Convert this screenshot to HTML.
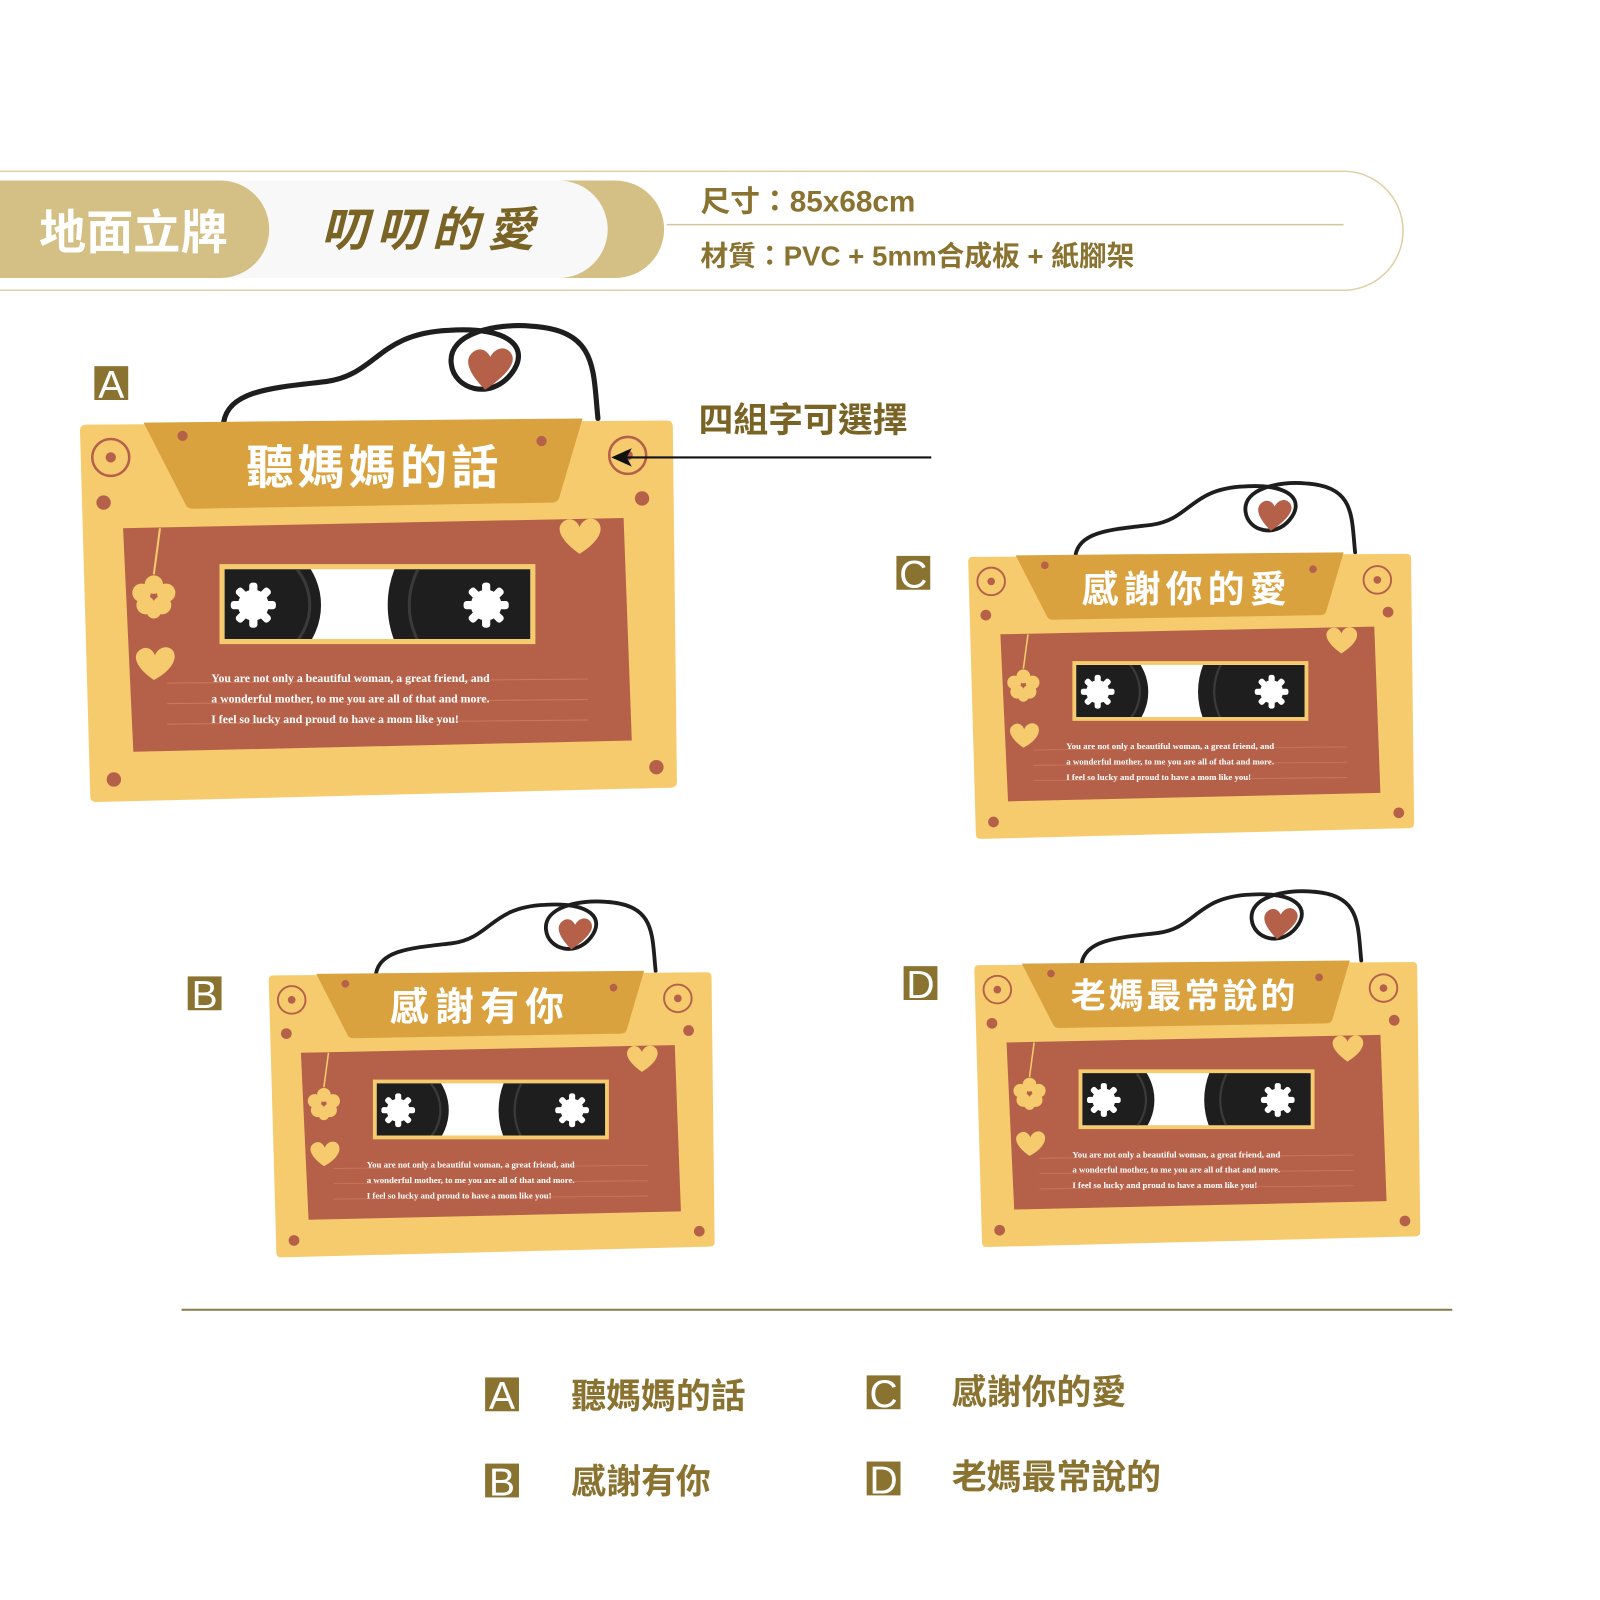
<!DOCTYPE html>
<html><head><meta charset="utf-8"><style>
html,body{margin:0;padding:0;background:#fff;width:1600px;height:1600px;overflow:hidden}
svg{display:block}
.cjk{font-family:"Liberation Sans","Noto Sans CJK TC",sans-serif}
</style></head><body>
<svg width="1600" height="1600" viewBox="0 0 1560 1560" xmlns="http://www.w3.org/2000/svg">
<defs>
<clipPath id="wclip"><rect x="141" y="145" width="298" height="68"/></clipPath>
<g id="gear">
  <circle r="15" fill="#fff"/>
  <g fill="#fff">
    <rect x="-4" y="-22" width="8" height="44" rx="3"/>
    <rect x="-4" y="-22" width="8" height="44" rx="3" transform="rotate(45)"/>
    <rect x="-4" y="-22" width="8" height="44" rx="3" transform="rotate(90)"/>
    <rect x="-4" y="-22" width="8" height="44" rx="3" transform="rotate(135)"/>
  </g>
</g>
<g id="cas">
  <path d="M140,2 C145,-30 190,-32 240,-38 C290,-45 290,-85 360,-88 C420,-92 440,-70 420,-45 C400,-20 365,-30 362,-55 C358,-85 405,-95 440,-92 C505,-88 500,-50 505,-2" fill="none" stroke="#1e1e1e" stroke-width="5" stroke-linecap="round"/>
  <path d="M395,-30 C380,-45 372,-60 385,-68 C393,-72 398,-66 400,-62 C404,-70 414,-74 420,-66 C428,-55 410,-40 395,-30 Z" fill="#b5614a"/>
  <path d="M6,4 L572,0 Q578,0 578,6 L582,352 Q582,358 576,358 L16,372 Q10,372 10,366 L0,10 Q0,4 6,4 Z" fill="#f5cb6e"/>
  <path d="M62,2 L490,-2 L467,76 Q465,80 460,80 L110,86 Q105,86 103,82 Z" fill="#d9a23e"/>
  <circle cx="30" cy="36" r="18" fill="none" stroke="#b5614a" stroke-width="2.5"/>
  <circle cx="30" cy="36" r="5" fill="#b5614a"/>
  <circle cx="534" cy="34" r="18" fill="none" stroke="#b5614a" stroke-width="2.5"/>
  <circle cx="534" cy="34" r="5" fill="#b5614a"/>
  <circle cx="23" cy="80" r="7" fill="#b5614a"/>
  <circle cx="548" cy="76" r="7" fill="#b5614a"/>
  <circle cx="33" cy="350" r="7" fill="#b5614a"/>
  <circle cx="562" cy="338" r="7" fill="#b5614a"/>
  <circle cx="100" cy="15" r="5" fill="#b5614a"/>
  <circle cx="450" cy="20" r="5" fill="#b5614a"/>
  <path d="M42,105 L530,95 L538,312 L52,323 Z" fill="#b5614a"/>
  <rect x="136" y="140" width="308" height="78" fill="#f5cb6e"/>
  <rect x="141" y="145" width="298" height="68" fill="#fff"/>
  <g clip-path="url(#wclip)">
    <circle cx="169" cy="180" r="66" fill="#1e1e1e"/>
    <circle cx="169" cy="180" r="55" fill="none" stroke="#3a3a3a" stroke-width="3"/>
    <circle cx="396" cy="180" r="96" fill="#1e1e1e"/>
    <circle cx="396" cy="180" r="75" fill="none" stroke="#3a3a3a" stroke-width="3"/>
  </g>
  <use href="#gear" x="169" y="180"/>
  <use href="#gear" x="396" y="180"/>
  <path d="M487,130 C470,118 462,105 472,98 C480,93 486,100 487,104 C490,96 500,92 506,100 C512,110 500,122 487,130 Z" fill="#f5cb6e"/>
  <path d="M72,253 C56,242 50,230 58,224 C66,218 72,225 73,229 C76,221 86,218 91,225 C96,234 86,246 72,253 Z" fill="#f5cb6e"/>
  <line x1="78" y1="105" x2="72" y2="150" stroke="#f5cb6e" stroke-width="2"/>
  <g fill="#f5cb6e">
    <circle cx="60" cy="168" r="9"/><circle cx="72" cy="160" r="9"/><circle cx="84" cy="168" r="9"/>
    <circle cx="64" cy="180" r="9"/><circle cx="80" cy="180" r="9"/><circle cx="72" cy="186" r="7"/>
  </g>
  <g stroke="#c97a5a" stroke-width="1">
    <line x1="85" y1="256" x2="495" y2="252"/>
    <line x1="85" y1="276" x2="495" y2="272"/>
    <line x1="85" y1="296" x2="495" y2="292"/>
  </g>
  <g font-family="Liberation Serif,serif" font-size="11.5" font-weight="bold" fill="#fff">
    <text x="128" y="255">You are not only a beautiful woman, a great friend, and</text>
    <text x="128" y="275">a wonderful mother, to me you are all of that and more.</text>
    <text x="128" y="295">I feel so lucky and proud to have a mom like you!</text>
  </g>
</g>
</defs>

<path d="M0,167 L1310,167 A58,58 0 0 1 1310,283 L0,283" fill="#fff" stroke="#ddd0a8" stroke-width="1.5"/>
<path d="M0,176 L600,176 A47,47 0 0 1 600,271 L0,271 Z" fill="#d4bf84"/>
<path d="M0,176 L545,176 A47,47 0 0 1 545,271 L0,271 Z" fill="#f8f8f8"/>
<path d="M0,176 L215,176 A47,47 0 0 1 215,271 L0,271 Z" fill="#d4bf84"/>
<text x="38" y="243" class="cjk" font-size="46" font-weight="bold" fill="#fff">地面立牌</text>
<text x="313" y="240" class="cjk" font-size="46" font-weight="bold" font-style="italic" fill="#7a6425" letter-spacing="8">叨叨的愛</text>
<text x="683" y="206" class="cjk" font-size="29" font-weight="bold" fill="#8a7330">尺寸：85x68cm</text>
<line x1="650" y1="219" x2="1310" y2="219" stroke="#d4c59a" stroke-width="1.5"/>
<text x="683" y="259" class="cjk" font-size="27" font-weight="bold" fill="#8a7330">材質：PVC + 5mm合成板 + 紙腳架</text>

<text x="681" y="421" class="cjk" font-size="34" font-weight="bold" fill="#7a6425">四組字可選擇</text>

<g transform="translate(78,410)"><use href="#cas"/></g>
<g transform="translate(944,540) scale(0.747)"><use href="#cas"/></g>
<g transform="translate(262,948) scale(0.747)"><use href="#cas"/></g>
<g transform="translate(950,938) scale(0.747)"><use href="#cas"/></g>

<g class="cjk" font-weight="bold" fill="#fff" text-anchor="middle">
  <text x="365" y="472" font-size="46" letter-spacing="4">聽媽媽的話</text>
  <text x="1157" y="587" font-size="36" letter-spacing="5">感謝你的愛</text>
  <text x="468" y="995" font-size="38" letter-spacing="6">感謝有你</text>
  <text x="1155" y="983" font-size="34" letter-spacing="3">老媽最常說的</text>
</g>

<line x1="908" y1="446" x2="606" y2="446" stroke="#111" stroke-width="2"/>
<path d="M596,446 L616,437 L611,446 L616,455 Z" fill="#111"/>

<g font-family="Liberation Sans,sans-serif" font-size="38" fill="#fff" text-anchor="middle">
  <rect x="92" y="357" width="33" height="33" fill="#8a7330"/><text x="108.5" y="388">A</text>
  <rect x="874" y="542" width="33" height="33" fill="#8a7330"/><text x="890.5" y="573">C</text>
  <rect x="183" y="952" width="33" height="33" fill="#8a7330"/><text x="199.5" y="983">B</text>
  <rect x="881" y="942" width="33" height="33" fill="#8a7330"/><text x="897.5" y="973">D</text>
  <rect x="473" y="1343" width="33" height="33" fill="#8a7330"/><text x="489.5" y="1374">A</text>
  <rect x="845" y="1341" width="33" height="33" fill="#8a7330"/><text x="861.5" y="1372">C</text>
  <rect x="473" y="1427" width="33" height="33" fill="#8a7330"/><text x="489.5" y="1458">B</text>
  <rect x="845" y="1425" width="33" height="33" fill="#8a7330"/><text x="861.5" y="1456">D</text>
</g>

<line x1="177" y1="1277" x2="1416" y2="1277" stroke="#8a7a4a" stroke-width="2"/>

<g class="cjk" font-size="34" font-weight="bold" fill="#8a7330">
  <text x="557" y="1373">聽媽媽的話</text>
  <text x="928" y="1369">感謝你的愛</text>
  <text x="557" y="1456">感謝有你</text>
  <text x="928" y="1452">老媽最常說的</text>
</g>
</svg>
</body></html>
